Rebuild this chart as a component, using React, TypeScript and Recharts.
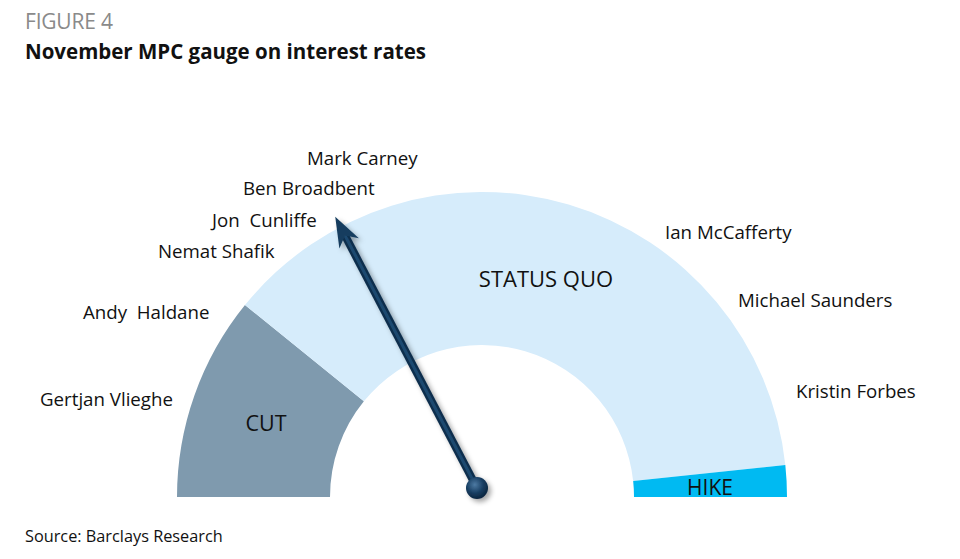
import { PieChart, Pie, Cell } from 'recharts'

// gauge zones, in degrees of the 180° dial (cut side first)
const zones = ['CUT', 'STATUS QUO', 'HIKE']
const zoneSpans = [39, 135, 6]
const zoneColors = ['#7f9aae', '#d6ecfb', '#00baf2']

// needle position on the dial, degrees from the hike end
const needleAngle = 117.6

// MPC members, left side (cut) to right side (hike)
const membersLeft = ['Mark Carney', 'Ben Broadbent', 'Jon  Cunliffe', 'Nemat Shafik', 'Andy  Haldane', 'Gertjan Vlieghe']
const membersRight = ['Ian McCafferty', 'Michael Saunders', 'Kristin Forbes']

const W = 960
const H = 559
const CX = 482
const CY = 497
const R_IN = 152
const R_OUT = 305
const FONT = '"Open Sans", sans-serif'

// label anchors (start x, middle y)
const leftPos: [number, number][] = [
  [307, 157],
  [243, 187],
  [212, 219],
  [158, 250],
  [83, 311],
  [40, 398],
]
const rightPos: [number, number][] = [
  [665, 231],
  [738, 299],
  [796, 390],
]
const zoneLabelPos: [number, number][] = [
  [266, 422],
  [546, 278],
  [710, 487],
]
const zoneFont = [21.5, 22, 21]

const rows = zones.map((name, i) => ({ name, value: zoneSpans[i] }))

function Overlay() {
  const rad = (needleAngle * Math.PI) / 180
  const px = CX - 5
  const py = CY - 9
  const len = 306
  const tx = px + len * Math.cos(rad)
  const ty = py - len * Math.sin(rad)
  const ux = Math.cos(rad)
  const uy = -Math.sin(rad)
  const nx = -uy
  const ny = ux
  const headLen = 30
  const headW = 11
  const bx = tx - ux * headLen
  const by = ty - uy * headLen
  const notchX = tx - ux * headLen * 0.7
  const notchY = ty - uy * headLen * 0.7
  return (
    <svg width={W} height={H} style={{ position: 'absolute', left: 0, top: 0, pointerEvents: 'none' }}>
      <defs>
        <filter id="shadow" x="-20%" y="-20%" width="140%" height="140%">
          <feDropShadow dx="3" dy="3" stdDeviation="2.5" floodColor="#000" floodOpacity="0.35" />
        </filter>
        <radialGradient id="knob" cx="40%" cy="35%" r="65%">
          <stop offset="0%" stopColor="#4d7aa3" />
          <stop offset="60%" stopColor="#173d61" />
          <stop offset="100%" stopColor="#0c2640" />
        </radialGradient>
      </defs>
      <g filter="url(#shadow)">
        <line x1={px} y1={py} x2={notchX} y2={notchY} stroke="#0f2f4d" strokeWidth={8} />
        <line x1={px} y1={py} x2={notchX} y2={notchY} stroke="#1d4a70" strokeWidth={3} />
        <polygon
          points={`${tx},${ty} ${bx + nx * headW},${by + ny * headW} ${notchX},${notchY} ${bx - nx * headW},${by - ny * headW}`}
          fill="#173d5e"
        />
        <circle cx={px} cy={py} r={11} fill="url(#knob)" />
      </g>
      {membersLeft.map((m, i) => (
        <text key={m} x={leftPos[i][0]} y={leftPos[i][1]} dominantBaseline="central" fontSize={18.7} fill="#111" fontFamily={FONT} style={{ whiteSpace: 'pre' }}>
          {m}
        </text>
      ))}
      {membersRight.map((m, i) => (
        <text key={m} x={rightPos[i][0]} y={rightPos[i][1]} dominantBaseline="central" fontSize={18.7} fill="#111" fontFamily={FONT} style={{ whiteSpace: 'pre' }}>
          {m}
        </text>
      ))}
      {zones.map((z, i) => (
        <text
          key={z}
          x={zoneLabelPos[i][0]}
          y={zoneLabelPos[i][1]}
          textAnchor="middle"
          dominantBaseline="central"
          fontSize={zoneFont[i]}
          fill="#111"
          fontFamily={FONT}
        >
          {z}
        </text>
      ))}
    </svg>
  )
}

export default function App() {
  return (
    <div style={{ position: 'absolute', left: 0, top: 0, width: W, height: H, background: '#fff', fontFamily: FONT }}>
      <div style={{ position: 'absolute', left: 25, top: 7, fontSize: 21, color: '#8a8a8a', letterSpacing: -0.2 }}>FIGURE 4</div>
      <div style={{ position: 'absolute', left: 25, top: 37, fontSize: 20.5, fontWeight: 700, color: '#111', letterSpacing: 0 }}>
        November MPC gauge on interest rates
      </div>
      <div style={{ position: 'absolute', left: 0, top: 0 }}>
        <PieChart width={W} height={H} margin={{ top: 0, right: 0, bottom: 0, left: 0 }}>
          <Pie
            data={rows}
            dataKey="value"
            nameKey="name"
            cx={CX}
            cy={CY}
            startAngle={180}
            endAngle={0}
            innerRadius={R_IN}
            outerRadius={R_OUT}
            stroke="none"
            isAnimationActive={false}
          >
            {rows.map((r, i) => (
              <Cell key={r.name} fill={zoneColors[i]} />
            ))}
          </Pie>
        </PieChart>
      </div>
      <Overlay />
      <div style={{ position: 'absolute', left: 25, top: 525, fontSize: 16.3, color: '#111' }}>Source: Barclays Research</div>
    </div>
  )
}
